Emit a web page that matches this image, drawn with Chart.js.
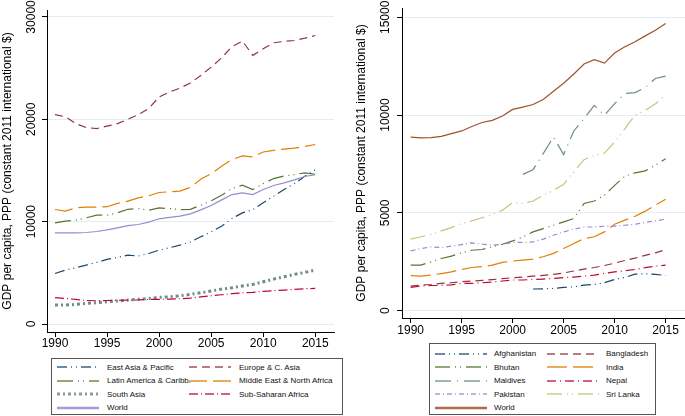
<!DOCTYPE html>
<html lang="en">
<head>
<meta charset="UTF-8" />
<title>GDP per capita, PPP - regions and South Asia</title>
<script src="https://cdn.jsdelivr.net/npm/chart.js"></script>
<style>
  html, body { margin: 0; padding: 0; background: #fff; }
  body { width: 685px; height: 416px; position: relative; overflow: hidden;
         font-family: "Liberation Sans", Arial, sans-serif; }
  .panel { position: absolute; }
  .legend { position: absolute; border: 1px solid #555; box-sizing: border-box; background: #fff; }
  .legend .item { position: absolute; height: 10px; display: flex; align-items: center;
                  font-size: 8px; color: #111; white-space: nowrap; }
  .legend svg { display: block; flex: none; }
</style>
</head>
<body>
<div class="panel" style="left:0;top:0;width:342px;height:356px;"><canvas id="left"></canvas></div>
<div class="panel" style="left:354px;top:0;width:331px;height:342px;"><canvas id="right"></canvas></div>
<div class="legend" id="legendLeft" style="left:51px;top:358px;width:292px;height:57px;"></div>
<div class="legend" id="legendRight" style="left:429px;top:343px;width:227px;height:72px;"></div>

<script>
// ---- data ----
const years = [1990, 1991, 1992, 1993, 1994, 1995, 1996, 1997, 1998, 1999, 2000, 2001, 2002,
               2003, 2004, 2005, 2006, 2007, 2008, 2009, 2010, 2011, 2012, 2013, 2014, 2015];
const xTicks = [1990, 1995, 2000, 2005, 2010, 2015];
const yTicksLeft = [0, 10000, 20000, 30000];
const yTicksRight = [0, 5000, 10000, 15000];

// left panel: world regions
const eastAsia = [4940, 5270, 5500, 5760, 6020, 6310, 6510, 6730, 6640, 6890, 7220, 7450, 7710,
                  8030, 8520, 9010, 9560, 10310, 10860, 11180, 11840, 12490, 13140, 13720, 14440, 15050];
const europeCAsia = [20460, 20250, 19580, 19190, 19100, 19330, 19580, 20000, 20460, 21050, 22180, 22670, 23050,
                     23540, 24290, 25100, 26000, 27100, 27650, 26250, 26890, 27480, 27610, 27700, 27930, 28190];
const latinAmerica = [9890, 10050, 10150, 10370, 10630, 10630, 10860, 11210, 11280, 11120, 11340, 11280, 11180,
                      11210, 11600, 12030, 12580, 13240, 13560, 13140, 13720, 14210, 14470, 14600, 14770, 14630];
const middleEast = [11190, 11030, 11360, 11420, 11420, 11460, 11780, 12000, 12330, 12530, 12850, 12920, 12980,
                    13350, 14150, 14700, 15410, 16070, 16420, 16330, 16810, 16960, 17090, 17190, 17350, 17540];
const southAsia = [1850, 1850, 1920, 2020, 2080, 2180, 2250, 2340, 2420, 2500, 2600, 2660, 2760,
                   2890, 3050, 3220, 3410, 3540, 3710, 3870, 4130, 4390, 4620, 4850, 5040, 5270];
const subSaharan = [2570, 2500, 2400, 2300, 2270, 2300, 2320, 2340, 2350, 2400, 2400, 2440, 2470,
                    2530, 2660, 2760, 2860, 2960, 3050, 3090, 3190, 3250, 3320, 3380, 3450, 3480];
const worldLeft = [8910, 8910, 8910, 8940, 9040, 9200, 9400, 9620, 9720, 9950, 10280, 10410, 10540,
                   10760, 11150, 11580, 12130, 12650, 12810, 12650, 13140, 13530, 13790, 14080, 14410, 14600];

// right panel: South Asian countries
const afghanistan = [null, null, null, null, null, null, null, null, null, null, null, null, 1110,
                     1120, 1140, 1190, 1220, 1310, 1340, 1430, 1600, 1700, 1870, 1890, 1860, 1800];
const bangladesh = [1260, 1310, 1340, 1400, 1430, 1480, 1520, 1550, 1590, 1640, 1690, 1720, 1770,
                    1810, 1860, 1930, 2030, 2130, 2210, 2310, 2430, 2570, 2690, 2830, 2960, 3120];
const bhutan = [2330, 2330, 2500, 2670, 2790, 2960, 3090, 3130, 3260, 3400, 3570, 3770, 4030,
                4200, 4370, 4540, 4710, 5480, 5610, 5900, 6410, 6870, 7050, 7150, 7430, 7770];
const india = [1790, 1770, 1820, 1900, 1990, 2110, 2210, 2250, 2330, 2470, 2540, 2590, 2640,
               2760, 2930, 3180, 3440, 3690, 3780, 4030, 4420, 4630, 4830, 5090, 5400, 5700];
const maldives = [null, null, null, null, null, null, null, null, null, null, null, 6970, 7210,
                  8030, 8880, 7980, 9190, 9820, 10500, 9990, 10590, 11100, 11150, 11410, 11870, 11990];
const nepal = [1190, 1260, 1290, 1290, 1320, 1400, 1400, 1430, 1460, 1520, 1570, 1570, 1600,
               1620, 1650, 1690, 1720, 1770, 1820, 1910, 1990, 2040, 2110, 2200, 2280, 2330];
const pakistan = [3060, 3180, 3260, 3230, 3300, 3380, 3470, 3400, 3350, 3400, 3490, 3490, 3520,
                  3660, 3860, 4030, 4170, 4280, 4280, 4320, 4320, 4370, 4420, 4510, 4590, 4680];
const sriLanka = [3660, 3780, 3900, 4080, 4250, 4460, 4590, 4750, 4930, 5140, 5530, 5480, 5610,
                  5900, 6150, 6460, 7100, 7720, 7940, 8060, 8620, 9300, 10000, 10240, 10580, 11030];
const worldRight = [8878, 8840, 8850, 8910, 9050, 9190, 9420, 9620, 9730, 9950, 10290, 10410, 10540,
                    10800, 11220, 11630, 12100, 12610, 12830, 12660, 13170, 13490, 13750, 14050, 14340, 14680];

const yTitle = "GDP per capita, PPP (constant 2011 international $)";

// ---- styles (Stata s2color) ----
const NAVY = "#1a476f", MAROON = "#90353b", GREEN = "#55752f", ORANGE = "#e37e00", TEAL = "#6e8e84",
      CRANBERRY = "#c10534", LAVENDER = "#938dd2", KHAKI = "#cac27e", SIENNA = "#a0522d";

const leftSeries = [
  { label: "East Asia & Pacific", data: eastAsia, color: NAVY, dash: [10, 4, 1, 4, 1, 4], width: 1.2 },
  { label: "Europe & C. Asia", data: europeCAsia, color: MAROON, dash: [8, 5], width: 1.2 },
  { label: "Latin America & Caribb.", data: latinAmerica, color: GREEN, dash: [16, 5, 1, 4, 1, 5], width: 1.2 },
  { label: "Middle East & North Africa", data: middleEast, color: ORANGE, dash: [18, 6], width: 1.2 },
  { label: "South Asia", data: southAsia, color: TEAL, dash: [3, 3, 2, 3], width: 3 },
  { label: "Sub-Saharan Africa", data: subSaharan, color: CRANBERRY, dash: [9, 3, 1, 3], width: 1.2 },
  { label: "World", data: worldLeft, color: LAVENDER, dash: [], width: 1.2 }
];

const rightSeries = [
  { label: "Afghanistan", data: afghanistan, color: NAVY, dash: [10, 4, 1, 4, 1, 4], width: 1.2 },
  { label: "Bangladesh", data: bangladesh, color: MAROON, dash: [8, 5], width: 1.2 },
  { label: "Bhutan", data: bhutan, color: GREEN, dash: [15, 5, 1, 4, 1, 5], width: 1.2 },
  { label: "India", data: india, color: ORANGE, dash: [20, 6], width: 1.2 },
  { label: "Maldives", data: maldives, color: TEAL, dash: [16, 6, 1, 6], width: 1.2 },
  { label: "Nepal", data: nepal, color: CRANBERRY, dash: [9, 4, 1, 4], width: 1.2 },
  { label: "Pakistan", data: pakistan, color: LAVENDER, dash: [5, 3, 1, 3], width: 1.2 },
  { label: "Sri Lanka", data: sriLanka, color: KHAKI, dash: [15, 5, 1, 4, 1, 5], width: 1.2 },
  { label: "World", data: worldRight, color: SIENNA, dash: [], width: 1.2 }
];

Chart.defaults.font.family = "'Liberation Sans', Arial, sans-serif";
Chart.defaults.color = "#000";

function makeChart(id, series, cfg) {
  const ctx = document.getElementById(id).getContext("2d");
  return new Chart(ctx, {
    type: "line",
    data: {
      datasets: series.map((s, i) => ({
        label: s.label,
        data: years.map((yr, j) => ({ x: yr, y: s.data[j] })),
        borderColor: s.color,
        borderWidth: s.width,
        borderDash: s.dash,
        borderCapStyle: "butt",
        pointRadius: 0,
        fill: false,
        tension: 0,
        spanGaps: false,
        order: -i
      }))
    },
    options: {
      responsive: true,
      maintainAspectRatio: false,
      animation: false,
      layout: { padding: { top: cfg.padTop, right: cfg.padRight, left: 0, bottom: 0 } },
      plugins: { legend: { display: false }, tooltip: { enabled: false } },
      scales: {
        x: {
          type: "linear",
          min: cfg.xMin,
          max: cfg.xMax,
          afterBuildTicks: (scale) => { scale.ticks = xTicks.map(v => ({ value: v })); },
          afterFit: (scale) => { scale.height = 24; },
          ticks: { font: { size: 12 }, padding: cfg.xPad, maxRotation: 0, callback: (v) => String(v) },
          grid: { drawOnChartArea: false, tickColor: "#000", tickLength: 5 },
          border: { display: true, color: "#000", width: 1 }
        },
        y: {
          min: cfg.yMin,
          max: cfg.yMax,
          afterBuildTicks: (scale) => { scale.ticks = cfg.yTicks.map(v => ({ value: v })); },
          afterFit: (scale) => { scale.width = cfg.yWidth; },
          ticks: { font: { size: 12 }, minRotation: 90, maxRotation: 90, crossAlign: "center",
                   padding: cfg.yPad, callback: (v) => String(v) },
          grid: { color: "#e3eef0", lineWidth: 1, tickColor: "#000", tickLength: 5 },
          border: { display: true, color: "#000", width: 1 },
          title: { display: true, text: yTitle, font: { size: 12 }, padding: 0 }
        }
      }
    }
  });
}

makeChart("left", leftSeries, {
  padTop: 10, padRight: 8, xMin: 1989.23, xMax: 2016.8, yMin: -780, yMax: 30680,
  yTicks: yTicksLeft, yWidth: 47, yPad: -6, xPad: -1
});
makeChart("right", rightSeries, {
  padTop: 8, padRight: 0, xMin: 1989.15, xMax: 2016.9, yMin: -372, yMax: 15475,
  yTicks: yTicksRight, yWidth: 48, yPad: -5, xPad: 0
});

// ---- boxed legends ----
function buildLegend(boxId, series, layout) {
  const box = document.getElementById(boxId);
  series.forEach((s, i) => {
    const col = i % 2, row = Math.floor(i / 2);
    const item = document.createElement("div");
    item.className = "item";
    item.style.left = layout.sampleLeft[col] + "px";
    item.style.top = (layout.rowTop + row * layout.rowStep - 5) + "px";
    const w = layout.sampleWidth;
    const lw = s.dash.length ? (s.width > 2 ? 3 : 1.5) : 2.5;
    const svg = '<svg width="' + w + '" height="6"><line x1="0" y1="3" x2="' + w + '" y2="3" stroke="' + s.color +
      '" stroke-opacity="0.85" stroke-width="' + lw + '" stroke-dasharray="' + s.dash.join(",") + '"/></svg>';
    item.innerHTML = svg + '<span style="margin-left:' + layout.textGap + 'px">' + s.label + '</span>';
    box.appendChild(item);
  });
}

buildLegend("legendLeft", leftSeries, { sampleLeft: [5, 137], sampleWidth: 42, textGap: 8, rowTop: 8.2, rowStep: 13.5 });
buildLegend("legendRight", rightSeries, { sampleLeft: [5, 117], sampleWidth: 52, textGap: 7, rowTop: 9.8, rowStep: 13.5 });
</script>
</body>
</html>
